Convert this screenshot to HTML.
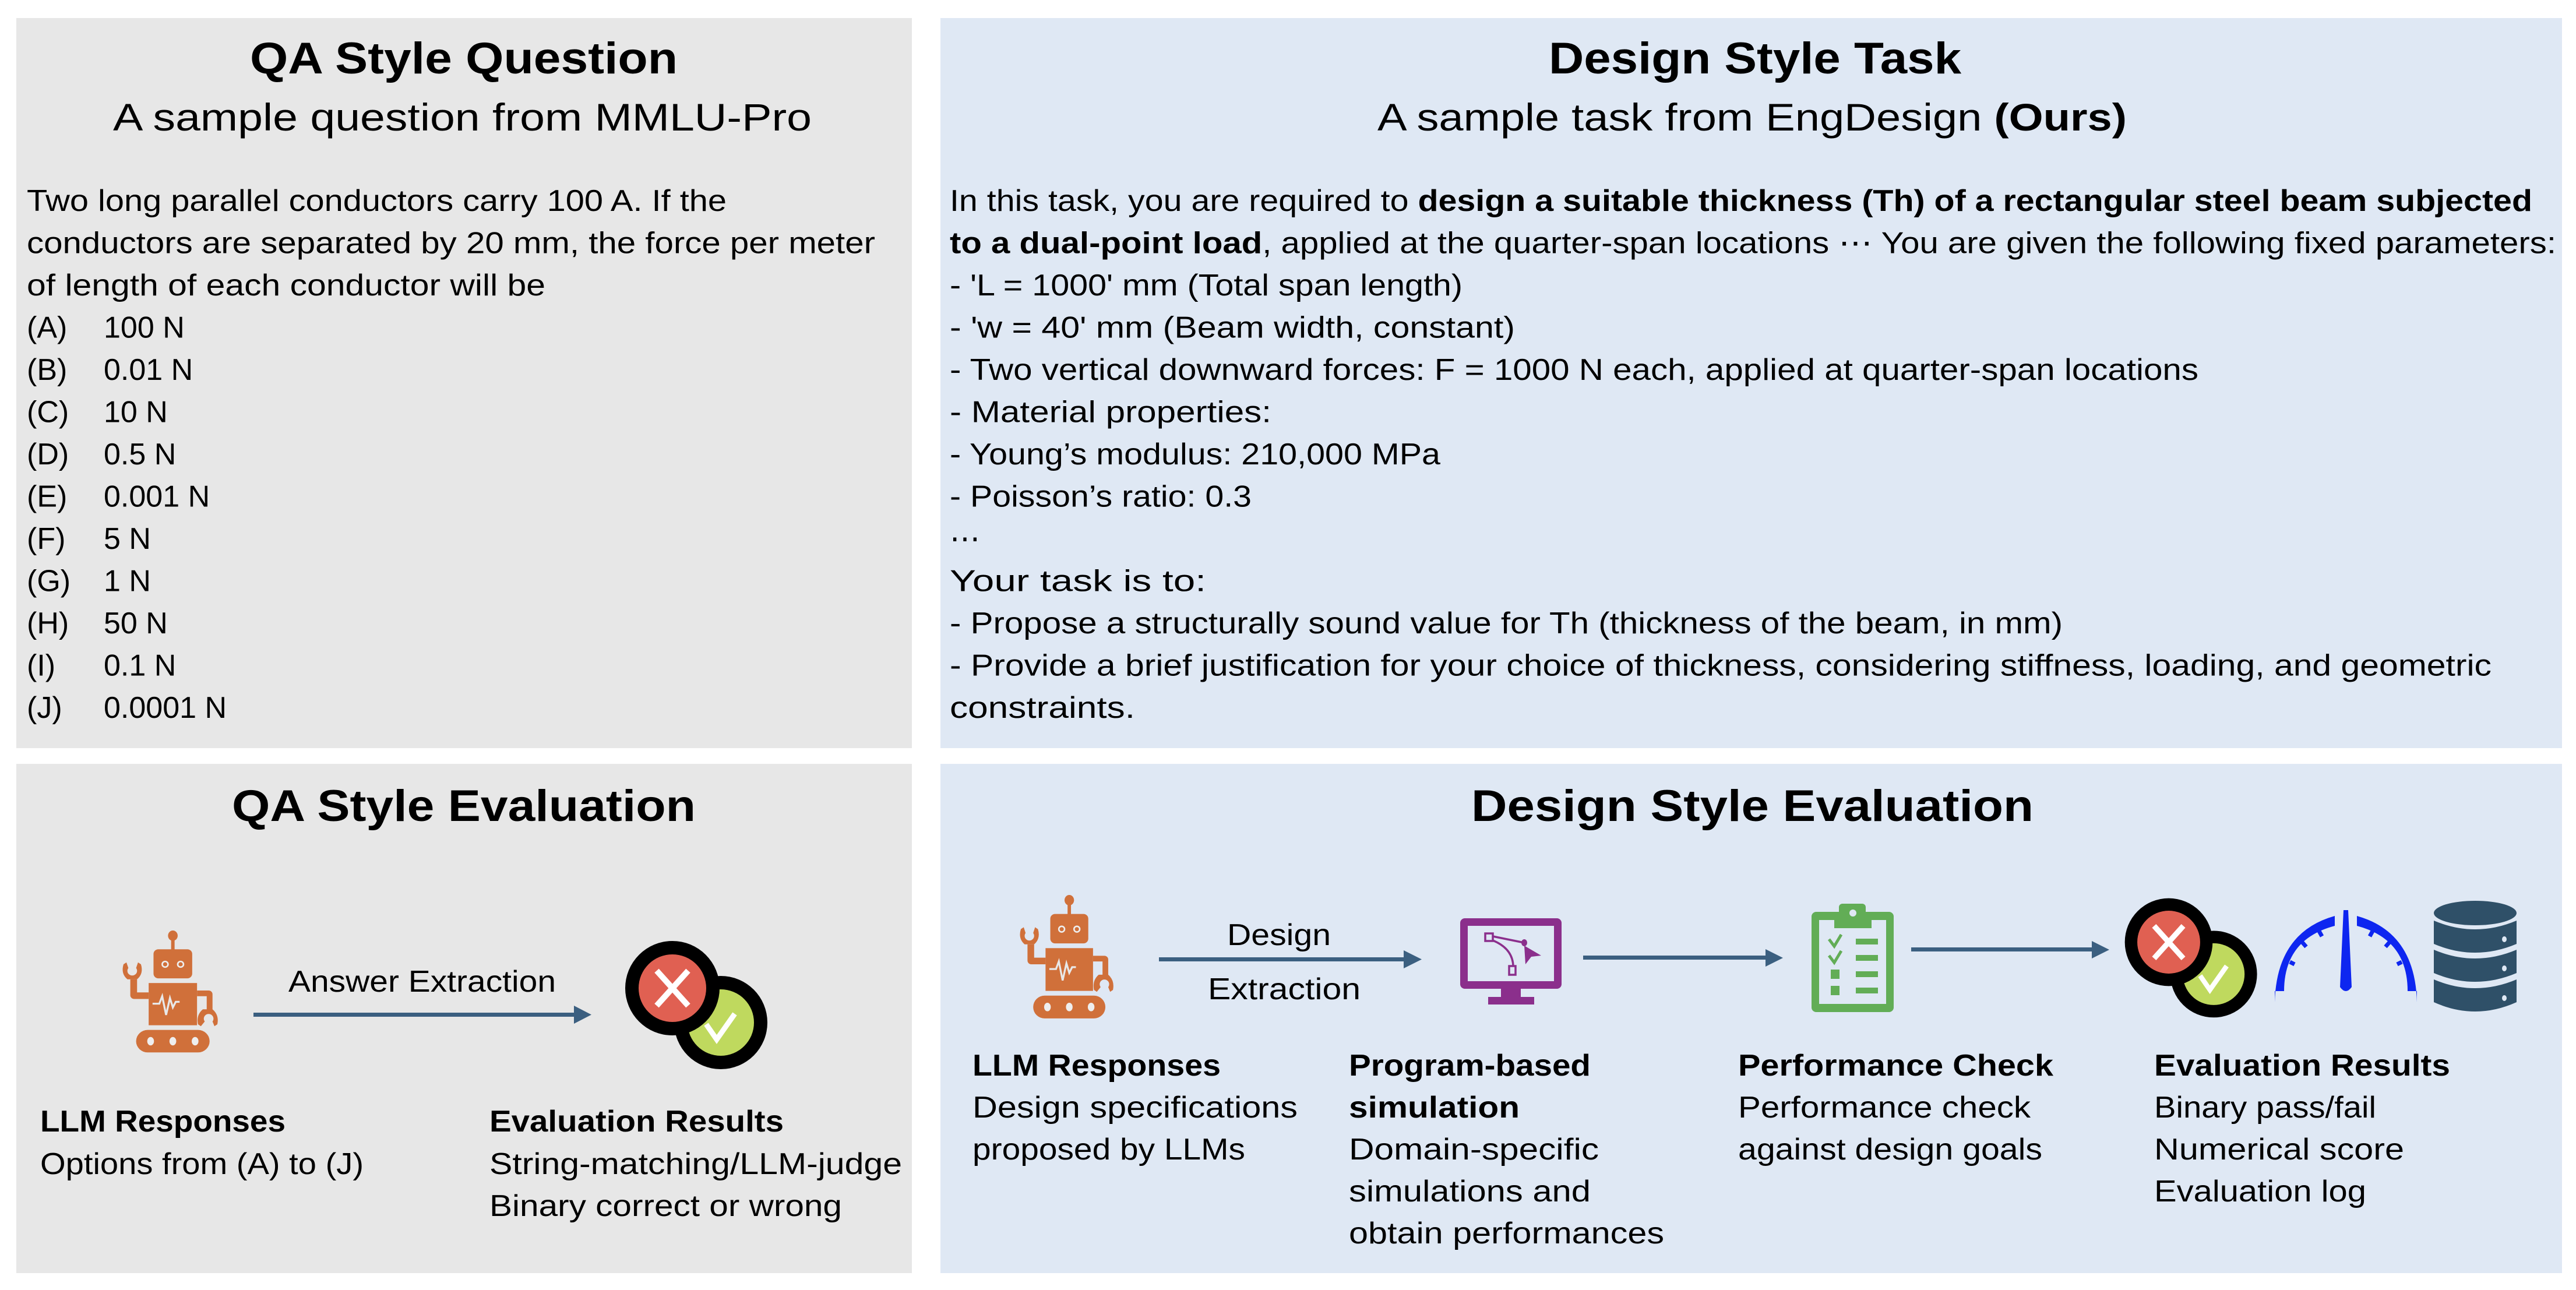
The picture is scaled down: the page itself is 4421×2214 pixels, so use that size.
<!DOCTYPE html>
<html><head><meta charset="utf-8"><style>
html,body{margin:0;padding:0;background:#fff;}
svg{display:block;}
text{font-family:"Liberation Sans",Arial,sans-serif;fill:#000;}
.b{font-size:52px;}
.bd{font-weight:bold;}
</style></head><body>
<svg width="4421" height="2214" viewBox="0 0 4421 2214" xmlns="http://www.w3.org/2000/svg">
<defs>
<g id="robot" fill="#d0703a">
  <ellipse cx="51" cy="5.5" rx="5" ry="5.5"/>
  <rect x="49.2" y="8" width="3.6" height="14"/>
  <rect x="31" y="20" width="40" height="31" rx="5"/>
  <circle cx="43" cy="36" r="3" fill="none" stroke="#eee" stroke-width="1.6"/>
  <circle cx="59" cy="36" r="3" fill="none" stroke="#eee" stroke-width="1.6"/>
  <rect x="26" y="56" width="50" height="45"/>
  <polyline points="30,78 37,78 40,70 44,90 48,72 51,82 54,76 58,76" fill="none" stroke="#e8e8e8" stroke-width="2"/>
  <path d="M7,52 h7 v14 h12 v7 h-15 a4,4 0 0 1 -4,-4 z"/>
  <path d="M0,36 l3,-2 l2,6 a5,5 0 1 0 8,0 l2,-6 l3,2 q3,10 -4,16 h-10 q-7,-6 -4,-16z"/>
  <path d="M76,64 h12 a4,4 0 0 1 4,4 v18 h-6 v-16 h-10z"/>
  <path d="M80,102 l-3,-2 q-2,-10 5,-16 h10 q7,6 5,16 l-3,2 l-2,-5 a5,5 0 1 0 -8,0 z"/>
  <rect x="13" y="106" width="76" height="24" rx="12"/>
  <ellipse cx="28" cy="118" rx="3.5" ry="4.5" fill="#eee"/>
  <ellipse cx="51" cy="118" rx="3.5" ry="4.5" fill="#eee"/>
  <ellipse cx="74" cy="118" rx="3.5" ry="4.5" fill="#eee"/>
</g>
<g id="xc">
  <circle cx="83" cy="59" r="80" fill="#000"/>
  <circle cx="83" cy="59" r="57" fill="#bfd95e"/>
  <polyline points="58,62 76,88 107,44" fill="none" stroke="#fff" stroke-width="9"/>
  <circle cx="0" cy="0" r="81" fill="#000"/>
  <circle cx="0" cy="0" r="58" fill="#e06052"/>
  <path d="M-27,-30 L27,30 M27,-30 L-27,30" stroke="#fff" stroke-width="10"/>
</g>
</defs>

<rect x="28" y="31" width="1537" height="1253" fill="#e7e7e7"/>
<rect x="1614" y="31" width="2783" height="1253" fill="#dfe8f4"/>
<rect x="28" y="1311" width="1537" height="874" fill="#e7e7e7"/>
<rect x="1614" y="1311" width="2783" height="874" fill="#dfe8f4"/>

<!-- TL -->
<text x="429" y="126" font-size="76" class="bd" textLength="734" lengthAdjust="spacingAndGlyphs">QA Style Question</text>
<text x="194" y="224" font-size="66" textLength="1199" lengthAdjust="spacingAndGlyphs">A sample question from MMLU-Pro</text>
<g class="b">
<text x="46" y="362" textLength="1201" lengthAdjust="spacingAndGlyphs">Two long parallel conductors carry 100 A. If the</text>
<text x="46" y="434.5" textLength="1456" lengthAdjust="spacingAndGlyphs">conductors are separated by 20 mm, the force per meter</text>
<text x="46" y="507" textLength="890" lengthAdjust="spacingAndGlyphs">of length of each conductor will be</text>
<text x="46" y="579.5">(A)</text><text x="178" y="579.5">100 N</text>
<text x="46" y="652">(B)</text><text x="178" y="652">0.01 N</text>
<text x="46" y="724.5">(C)</text><text x="178" y="724.5">10 N</text>
<text x="46" y="797">(D)</text><text x="178" y="797">0.5 N</text>
<text x="46" y="869.5">(E)</text><text x="178" y="869.5">0.001 N</text>
<text x="46" y="942">(F)</text><text x="178" y="942">5 N</text>
<text x="46" y="1014.5">(G)</text><text x="178" y="1014.5">1 N</text>
<text x="46" y="1087">(H)</text><text x="178" y="1087">50 N</text>
<text x="46" y="1159.5">(I)</text><text x="178" y="1159.5">0.1 N</text>
<text x="46" y="1232">(J)</text><text x="178" y="1232">0.0001 N</text>
</g>

<!-- TR -->
<text x="2658" y="126" font-size="76" class="bd" textLength="708" lengthAdjust="spacingAndGlyphs">Design Style Task</text>
<text x="2364" y="224" font-size="66" textLength="1286" lengthAdjust="spacingAndGlyphs">A sample task from EngDesign <tspan font-weight="bold">(Ours)</tspan></text>
<g class="b">
<text x="1630" y="362" textLength="2716" lengthAdjust="spacingAndGlyphs">In this task, you are required to <tspan font-weight="bold">design a suitable thickness (Th) of a rectangular steel beam subjected</tspan></text>
<text x="1630" y="434.5" textLength="2757" lengthAdjust="spacingAndGlyphs"><tspan font-weight="bold">to a dual-point load</tspan>, applied at the quarter-span locations ⋯ You are given the following fixed parameters:</text>
<text x="1630" y="507" textLength="880" lengthAdjust="spacingAndGlyphs">- 'L = 1000' mm  (Total span length)</text>
<text x="1630" y="579.5" textLength="970" lengthAdjust="spacingAndGlyphs">- 'w = 40' mm  (Beam width, constant)</text>
<text x="1630" y="652" textLength="2143" lengthAdjust="spacingAndGlyphs">- Two vertical downward forces: F = 1000 N each, applied at quarter-span locations</text>
<text x="1630" y="724.5" textLength="552" lengthAdjust="spacingAndGlyphs">- Material properties:</text>
<text x="1630" y="797" textLength="842" lengthAdjust="spacingAndGlyphs">- Young’s modulus: 210,000 MPa</text>
<text x="1630" y="869.5" textLength="518" lengthAdjust="spacingAndGlyphs">- Poisson’s ratio: 0.3</text>
<text x="1630" y="942">⋯</text>
<text x="1630" y="1014.5" textLength="440" lengthAdjust="spacingAndGlyphs">Your task is to:</text>
<text x="1630" y="1087" textLength="1910" lengthAdjust="spacingAndGlyphs">- Propose a structurally sound value for Th (thickness of the beam, in mm)</text>
<text x="1630" y="1159.5" textLength="2646" lengthAdjust="spacingAndGlyphs">- Provide a brief justification for your choice of thickness, considering stiffness, loading, and geometric</text>
<text x="1630" y="1232" textLength="318" lengthAdjust="spacingAndGlyphs">constraints.</text>
</g>

<!-- BL -->
<text x="398" y="1409" font-size="76" class="bd" textLength="796" lengthAdjust="spacingAndGlyphs">QA Style Evaluation</text>
<use href="#robot" transform="translate(212,1597) scale(1.66,1.61)"/>
<text x="495" y="1702" font-size="52" textLength="459" lengthAdjust="spacingAndGlyphs">Answer Extraction</text>
<rect x="435" y="1738" width="555" height="7" fill="#3b5f80"/>
<polygon points="985,1726 1015,1741.5 985,1757" fill="#3b5f80"/>
<use href="#xc" transform="translate(1154,1696)"/>
<g class="b">
<text x="69" y="1942" class="bd" textLength="421" lengthAdjust="spacingAndGlyphs">LLM Responses</text>
<text x="69" y="2015" textLength="555" lengthAdjust="spacingAndGlyphs">Options from (A) to (J)</text>
<text x="840" y="1942" class="bd" textLength="505" lengthAdjust="spacingAndGlyphs">Evaluation Results</text>
<text x="840" y="2015" textLength="708" lengthAdjust="spacingAndGlyphs">String-matching/LLM-judge</text>
<text x="840" y="2087" textLength="605" lengthAdjust="spacingAndGlyphs">Binary correct or wrong</text>
</g>

<!-- BR -->
<text x="2525" y="1409" font-size="76" class="bd" textLength="965" lengthAdjust="spacingAndGlyphs">Design Style Evaluation</text>
<use href="#robot" transform="translate(1752,1536) scale(1.63,1.63)"/>
<text x="2106" y="1622" font-size="52" textLength="178" lengthAdjust="spacingAndGlyphs">Design</text>
<text x="2073" y="1715" font-size="52" textLength="262" lengthAdjust="spacingAndGlyphs">Extraction</text>
<rect x="1989" y="1643" width="420" height="7" fill="#3b5f80"/>
<polygon points="2409,1631 2440,1646.5 2409,1662" fill="#3b5f80"/>
<!-- monitor -->
<rect x="2506" y="1576" width="174" height="121" rx="8" fill="#8b2f8c"/>
<rect x="2519" y="1589" width="148" height="95" fill="#dfe8f4"/>
<rect x="2576" y="1697" width="34" height="14" fill="#8b2f8c"/>
<rect x="2554" y="1711" width="79" height="13" fill="#8b2f8c"/>
<g fill="none" stroke="#8b2f8c" stroke-width="3.5">
<rect x="2549" y="1602" width="13" height="13"/>
<rect x="2590" y="1658" width="11" height="15"/>
<path d="M2562,1607 L2616,1618"/>
<path d="M2562,1614 Q2596,1628 2597,1658"/>
</g>
<ellipse cx="2616" cy="1618" rx="5" ry="6" fill="#8b2f8c"/>
<polygon points="2616,1623 2645,1640 2628,1642 2618,1655" fill="#8b2f8c"/>
<rect x="2717" y="1640" width="313" height="7" fill="#3b5f80"/>
<polygon points="3030,1629 3060,1644 3030,1659" fill="#3b5f80"/>
<!-- clipboard -->
<rect x="3109" y="1565" width="141" height="172" rx="8" fill="#62ad56"/>
<rect x="3122" y="1579" width="115" height="144" fill="#dfe8f4"/>
<rect x="3156" y="1551" width="46" height="20" rx="6" fill="#62ad56"/>
<rect x="3148" y="1568" width="64" height="25" fill="#62ad56"/>
<ellipse cx="3180" cy="1567" rx="6" ry="6" fill="#dfe8f4"/>
<g fill="none" stroke="#62ad56" stroke-width="5">
<polyline points="3139,1612 3148,1624 3160,1604"/>
<polyline points="3139,1640 3148,1652 3160,1632"/>
</g>
<g fill="#62ad56">
<rect x="3185" y="1611" width="38" height="10"/><rect x="3185" y="1639" width="38" height="10"/>
<rect x="3185" y="1667" width="38" height="10"/><rect x="3185" y="1695" width="38" height="10"/>
<rect x="3142" y="1664" width="15" height="16"/><rect x="3142" y="1692" width="15" height="16"/>
</g>
<rect x="3280" y="1626" width="310" height="7" fill="#3b5f80"/>
<polygon points="3590,1615 3620,1630 3590,1645" fill="#3b5f80"/>
<use href="#xc" transform="translate(3722,1617) scale(0.93)"/>
<!-- gauge -->
<g fill="#0e26f0">
<path d="M4007,1572 Q3907,1600 3904,1720 L3904,1701 L3920,1701 Q3920,1612 4007,1589 Z"/>
<path d="M4045,1572 Q4145,1600 4148,1720 L4148,1701 L4132,1701 Q4132,1612 4045,1589 Z"/>
<path d="M4022,1562 L4030,1562 L4036,1694 Q4026,1708 4016,1694 Z"/>
</g>
<g stroke="#0e26f0" stroke-width="7">
<path d="M3980,1598 L3985,1607 M3951,1617 L3958,1625 M3930,1651 L3938,1655 M4072,1598 L4067,1607 M4101,1617 L4094,1625 M4122,1651 L4114,1655"/>
</g>
<!-- database -->
<g fill="#2f5068">
<ellipse cx="4248" cy="1567" rx="71" ry="21"/>
<path d="M4177,1580 Q4248,1610 4319,1580 L4319,1620 Q4248,1650 4177,1620 Z"/>
<path d="M4177,1630 Q4248,1660 4319,1630 L4319,1670 Q4248,1700 4177,1670 Z"/>
<path d="M4177,1681 Q4248,1711 4319,1681 L4319,1720 Q4248,1752 4177,1720 Z"/>
</g>
<g fill="#dfe8f4"><ellipse cx="4298" cy="1612" rx="4" ry="5"/><ellipse cx="4298" cy="1662" rx="4" ry="5"/><ellipse cx="4298" cy="1713" rx="4" ry="5"/></g>

<g class="b">
<text x="1669" y="1846" class="bd" textLength="426" lengthAdjust="spacingAndGlyphs">LLM Responses</text>
<text x="1669" y="1918" textLength="558" lengthAdjust="spacingAndGlyphs">Design specifications</text>
<text x="1669" y="1990" textLength="468" lengthAdjust="spacingAndGlyphs">proposed by LLMs</text>
<text x="2315" y="1846" class="bd" textLength="415" lengthAdjust="spacingAndGlyphs">Program-based</text>
<text x="2315" y="1918" class="bd" textLength="293" lengthAdjust="spacingAndGlyphs">simulation</text>
<text x="2315" y="1990" textLength="429" lengthAdjust="spacingAndGlyphs">Domain-specific</text>
<text x="2315" y="2062" textLength="415" lengthAdjust="spacingAndGlyphs">simulations and</text>
<text x="2315" y="2134" textLength="541" lengthAdjust="spacingAndGlyphs">obtain performances</text>
<text x="2983" y="1846" class="bd" textLength="541" lengthAdjust="spacingAndGlyphs">Performance Check</text>
<text x="2983" y="1918" textLength="502" lengthAdjust="spacingAndGlyphs">Performance check</text>
<text x="2983" y="1990" textLength="522" lengthAdjust="spacingAndGlyphs">against design goals</text>
<text x="3697" y="1846" class="bd" textLength="508" lengthAdjust="spacingAndGlyphs">Evaluation Results</text>
<text x="3697" y="1918" textLength="381" lengthAdjust="spacingAndGlyphs">Binary pass/fail</text>
<text x="3697" y="1990" textLength="429" lengthAdjust="spacingAndGlyphs">Numerical score</text>
<text x="3697" y="2062" textLength="364" lengthAdjust="spacingAndGlyphs">Evaluation log</text>
</g>
</svg>
</body></html>
